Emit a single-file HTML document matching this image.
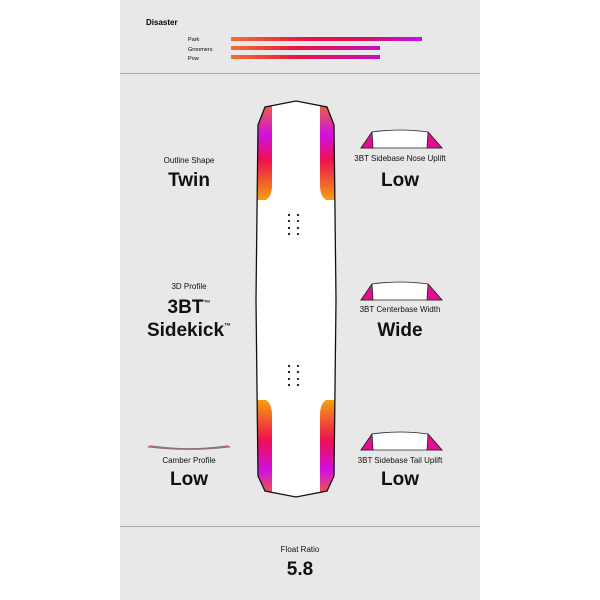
<!DOCTYPE html>
<html><head><style>
body{margin:0;background:#fff;}
svg{display:block;font-family:"Liberation Sans",Arial,sans-serif;}
</style></head><body>
<svg width="600" height="600" viewBox="0 0 600 600">
<defs>
<linearGradient id="bar" x1="0" x2="1" y1="0" y2="0">
<stop offset="0" stop-color="#f07030"/><stop offset="0.4" stop-color="#ee1040"/><stop offset="0.7" stop-color="#d81060"/><stop offset="1" stop-color="#c010f0"/></linearGradient>
<linearGradient id="bar2" x1="0" x2="1"><stop offset="0" stop-color="#f07030"/><stop offset="0.45" stop-color="#ee1040"/><stop offset="1" stop-color="#c010c0"/></linearGradient>
<linearGradient id="nose" x1="0" x2="0" y1="0" y2="1">
<stop offset="0" stop-color="#f07020"/><stop offset="0.35" stop-color="#d010e0"/><stop offset="0.6" stop-color="#ee1050"/><stop offset="1" stop-color="#f5a010"/></linearGradient>
<linearGradient id="tail" x1="0" x2="0" y1="1" y2="0">
<stop offset="0" stop-color="#f07020"/><stop offset="0.3" stop-color="#d010e0"/><stop offset="0.6" stop-color="#ee1050"/><stop offset="1" stop-color="#f5a010"/></linearGradient>
<clipPath id="bc"><path d="M265,107 L296,101 L327,107 L334,125 L336,300 L334,476 L327,491 L296,497 L265,491 L258,476 L256,300 L258,125 Z"/></clipPath>
</defs>
<rect x="120" y="0" width="360" height="600" fill="#e8e8e8"/>
<line x1="120" y1="73.5" x2="480" y2="73.5" stroke="#aaa" stroke-width="1"/>
<line x1="120" y1="526.5" x2="480" y2="526.5" stroke="#aaa" stroke-width="1"/>
<text x="146" y="25" font-size="8" font-weight="bold">Disaster</text>
<g font-size="5.5"><text x="188" y="41">Park</text><text x="188" y="51">Groomers</text><text x="188" y="60">Pow</text></g>
<rect x="231" y="37" width="191" height="4" fill="url(#bar)"/>
<rect x="231" y="46" width="149" height="4" fill="url(#bar2)"/>
<rect x="231" y="55" width="149" height="4" fill="url(#bar2)"/>
<g clip-path="url(#bc)">
<rect x="250" y="95" width="95" height="410" fill="#fff"/>
<path d="M250,100 L272,100 L272,185 Q272,196 266,200 L250,200 Z" fill="url(#nose)"/>
<path d="M342,100 L320,100 L320,185 Q320,196 326,200 L342,200 Z" fill="url(#nose)"/>
<path d="M250,500 L272,500 L272,415 Q272,404 266,400 L250,400 Z" fill="url(#tail)"/>
<path d="M342,500 L320,500 L320,415 Q320,404 326,400 L342,400 Z" fill="url(#tail)"/>
</g>
<path d="M265,107 L296,101 L327,107 L334,125 L336,300 L334,476 L327,491 L296,497 L265,491 L258,476 L256,300 L258,125 Z" fill="none" stroke="#111" stroke-width="1.3"/>
<g fill="#111">
<circle cx="289" cy="215" r="1.1"/><circle cx="298" cy="215" r="1.1"/><circle cx="289" cy="221" r="1.1"/><circle cx="298" cy="221" r="1.1"/><circle cx="289" cy="228" r="1.1"/><circle cx="298" cy="228" r="1.1"/><circle cx="289" cy="234" r="1.1"/><circle cx="298" cy="234" r="1.1"/>
<circle cx="289" cy="366" r="1.1"/><circle cx="298" cy="366" r="1.1"/><circle cx="289" cy="372" r="1.1"/><circle cx="298" cy="372" r="1.1"/><circle cx="289" cy="379" r="1.1"/><circle cx="298" cy="379" r="1.1"/><circle cx="289" cy="385" r="1.1"/><circle cx="298" cy="385" r="1.1"/>
</g>
<g text-anchor="middle" fill="#111">
<text x="189" y="163" font-size="8">Outline Shape</text>
<text x="189" y="186" font-size="19" font-weight="bold">Twin</text>
<text x="189" y="289" font-size="8">3D Profile</text>
<text x="189" y="313" font-size="19" font-weight="bold">3BT<tspan font-size="7" dy="-8">™</tspan></text>
<text x="189" y="336" font-size="19" font-weight="bold">Sidekick<tspan font-size="7" dy="-8">™</tspan></text>
<text x="189" y="463" font-size="8">Camber Profile</text>
<text x="189" y="485" font-size="19" font-weight="bold">Low</text>
<text x="400" y="161" font-size="8">3BT Sidebase Nose Uplift</text>
<text x="400" y="186" font-size="19" font-weight="bold">Low</text>
<text x="400" y="312" font-size="8">3BT Centerbase Width</text>
<text x="400" y="336" font-size="19" font-weight="bold">Wide</text>
<text x="400" y="463" font-size="8">3BT Sidebase Tail Uplift</text>
<text x="400" y="485" font-size="19" font-weight="bold">Low</text>
<text x="300" y="552" font-size="8">Float Ratio</text>
<text x="300" y="575" font-size="19" font-weight="bold">5.8</text>
</g>
<path d="M148,447 Q150,445 153,446 Q189,451 225,446 Q228,445 230,447 Q189,452 148,447 Z" fill="#d06080" stroke="#777" stroke-width="0.7"/>
<g stroke="#222" stroke-width="0.8">
<path d="M361,148 L372,132 Q400,128 428,132 L442,148 Z" fill="#fff"/>
<path d="M361,148 L372,132 L373,148 Z" fill="#e01090"/>
<path d="M442,148 L428,132 L427,148 Z" fill="#e01090"/>
<path d="M361,300 L372,284 Q400,280 428,284 L442,300 Z" fill="#fff"/>
<path d="M361,300 L372,284 L373,300 Z" fill="#e01090"/>
<path d="M442,300 L428,284 L427,300 Z" fill="#e01090"/>
<path d="M361,450 L372,434 Q400,430 428,434 L442,450 Z" fill="#fff"/>
<path d="M361,450 L372,434 L373,450 Z" fill="#e01090"/>
<path d="M442,450 L428,434 L427,450 Z" fill="#e01090"/>
</g>
</svg>
</body></html>
